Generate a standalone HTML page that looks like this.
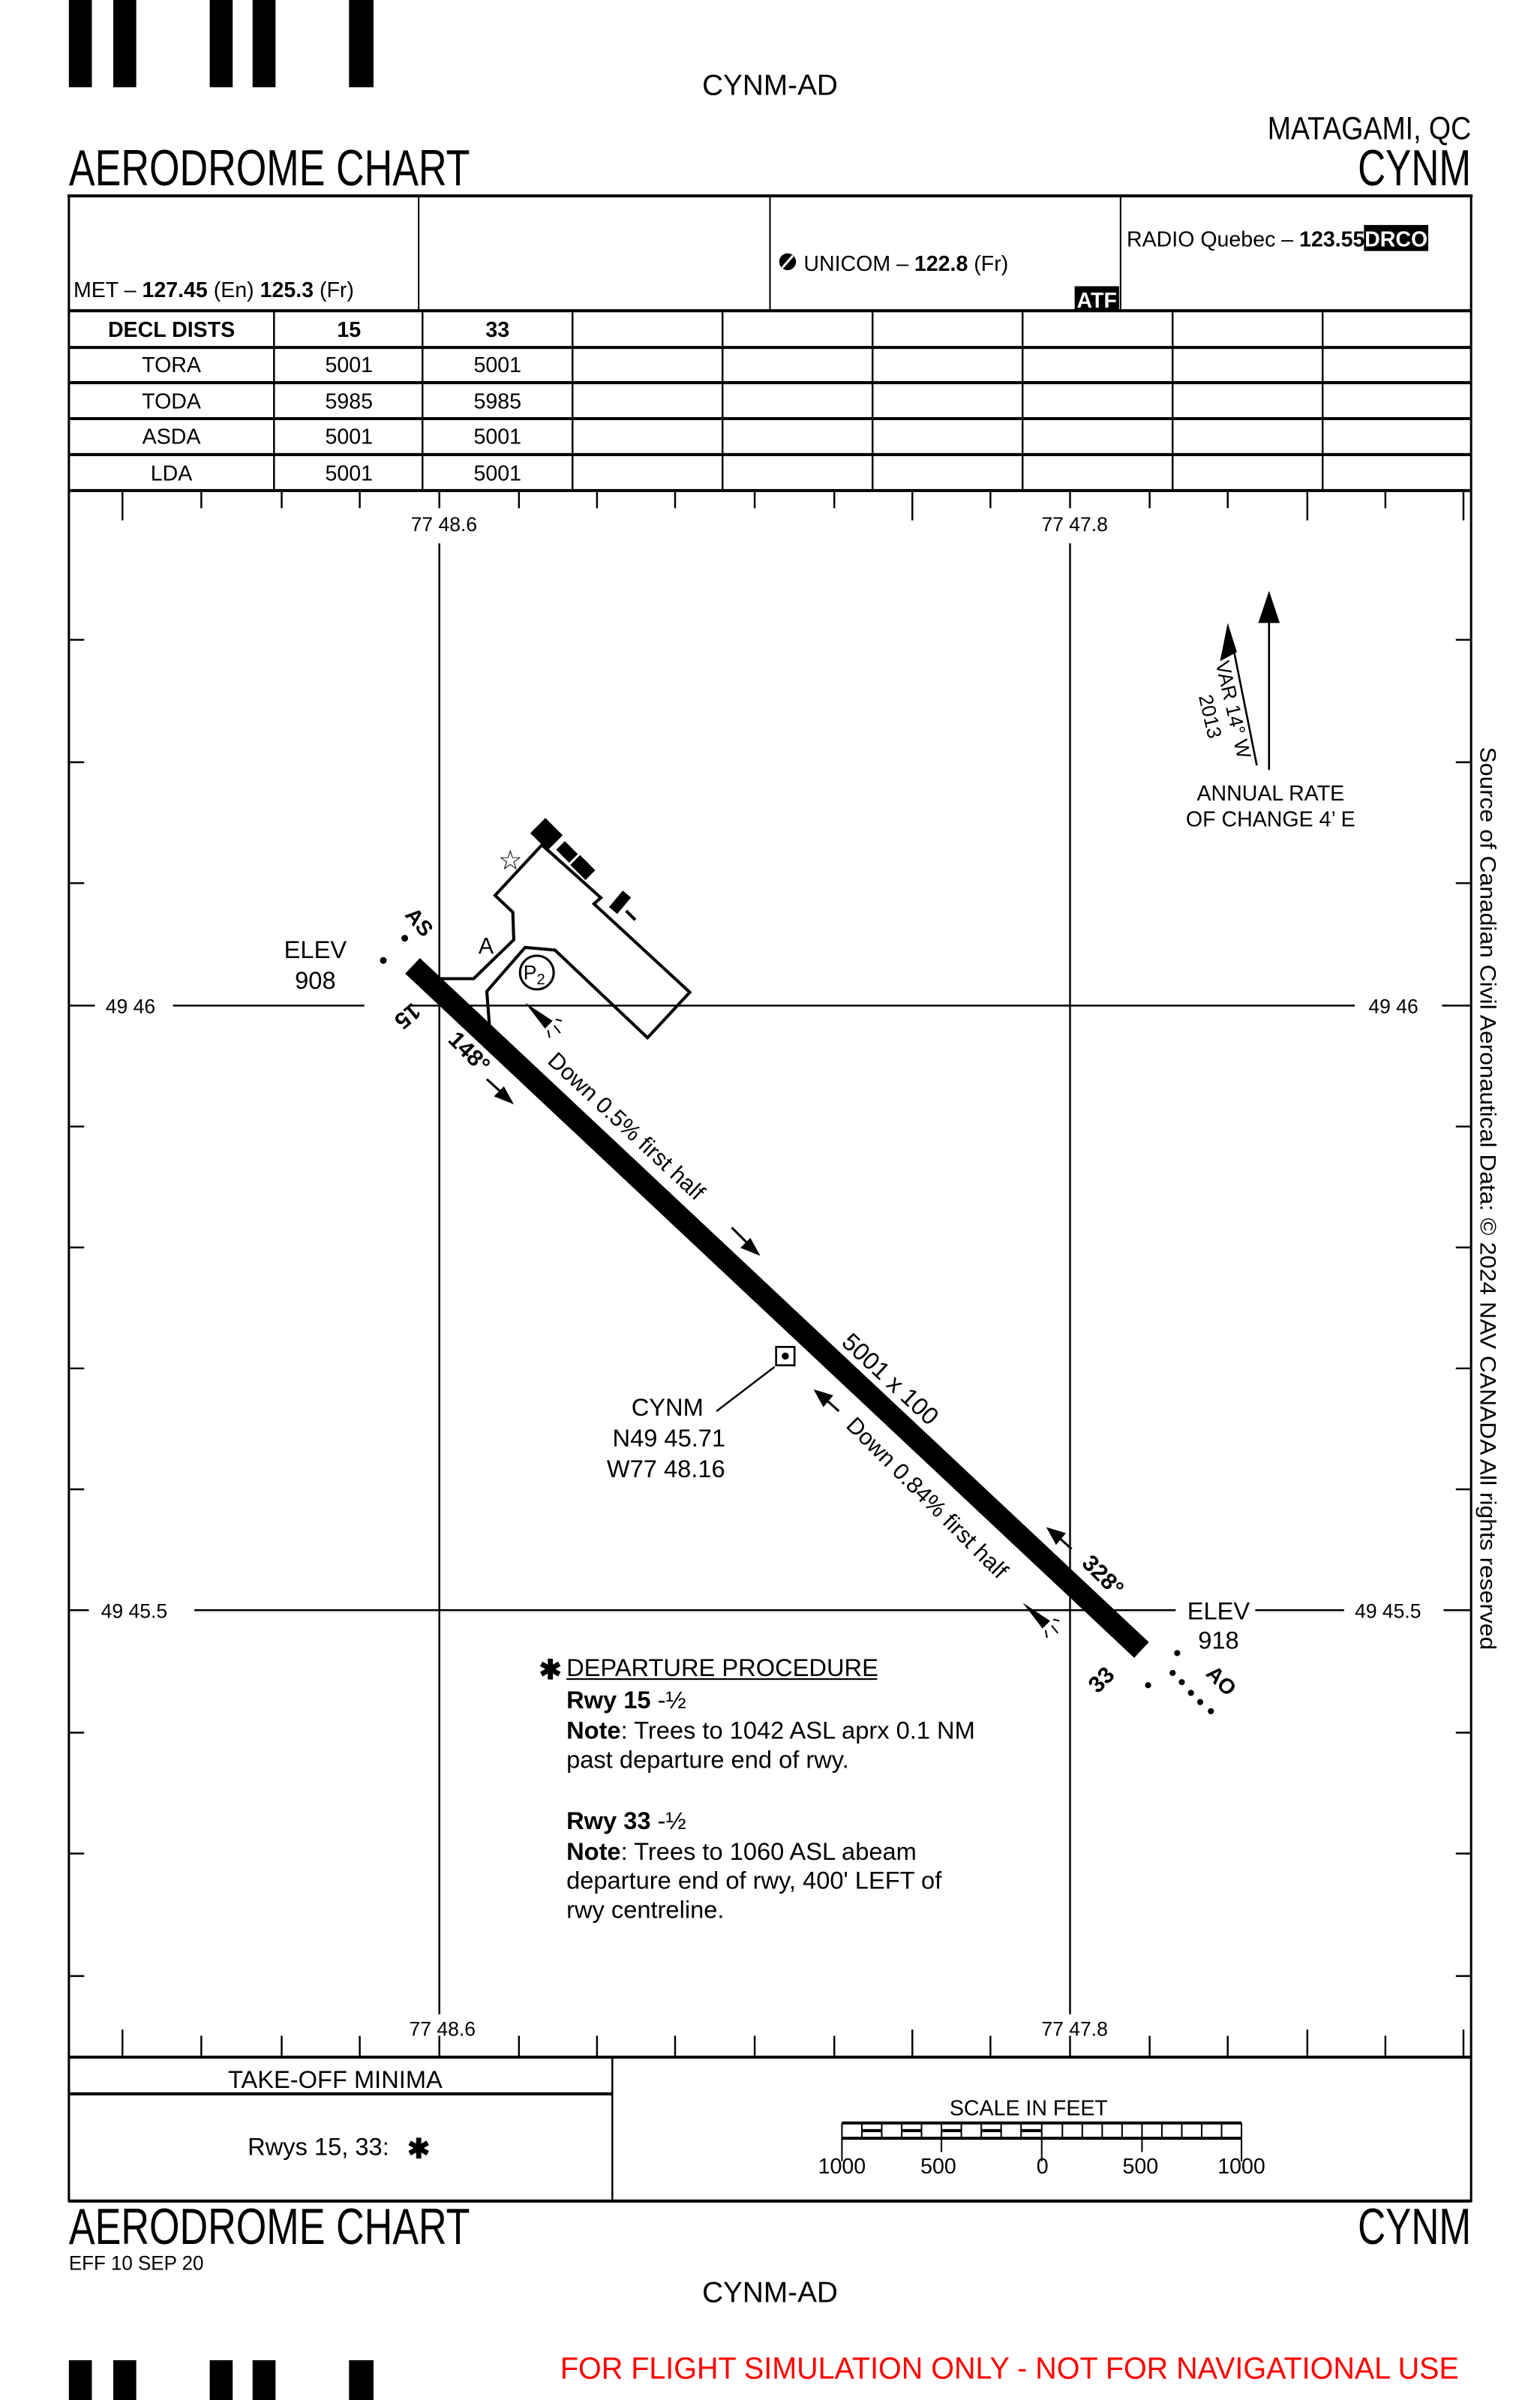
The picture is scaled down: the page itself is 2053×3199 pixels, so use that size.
<!DOCTYPE html>
<html><head><meta charset="utf-8"><style>
html,body{margin:0;padding:0;background:#fff}
svg{display:block}
text{font-family:"Liberation Sans",Arial,sans-serif;fill:#000}
.b{font-weight:bold}
</style></head><body>
<svg width="2053" height="3199" viewBox="0 0 1006 1568" preserveAspectRatio="none" xmlns="http://www.w3.org/2000/svg">
<rect width="1006" height="1568" fill="#fff"/>
<g fill="#000">
<rect x="45" y="0" width="15" height="57"/><rect x="74" y="0" width="15" height="57"/>
<rect x="137" y="0" width="15" height="57"/><rect x="165" y="0" width="15" height="57"/>
<rect x="228" y="0" width="16" height="57"/>
<rect x="45" y="1542" width="15" height="26"/><rect x="74" y="1542" width="15" height="26"/>
<rect x="137" y="1542" width="15" height="26"/><rect x="165" y="1542" width="15" height="26"/>
<rect x="228" y="1542" width="16" height="26"/>
</g>
<text x="503" y="62" font-size="19" text-anchor="middle">CYNM-AD</text>
<text x="961" y="91" font-size="21" text-anchor="end" textLength="133" lengthAdjust="spacingAndGlyphs">MATAGAMI, QC</text>
<text x="45" y="121" font-size="33" textLength="262" lengthAdjust="spacingAndGlyphs">AERODROME CHART</text>
<text x="961" y="121" font-size="33" text-anchor="end" textLength="74" lengthAdjust="spacingAndGlyphs">CYNM</text>

<g stroke="#000" fill="none">
<rect x="45" y="128" width="916" height="1310" stroke-width="1.5"/>
<line x1="44" y1="128" x2="962" y2="128" stroke-width="2"/>
<line x1="273.5" y1="128" x2="273.5" y2="203" stroke-width="1"/>
<line x1="503" y1="128" x2="503" y2="203" stroke-width="1"/>
<line x1="732" y1="128" x2="732" y2="203" stroke-width="1"/>
<g stroke-width="2">
<line x1="45" y1="203" x2="961" y2="203"/><line x1="45" y1="227" x2="961" y2="227"/>
<line x1="45" y1="250" x2="961" y2="250"/><line x1="45" y1="273.5" x2="961" y2="273.5"/>
<line x1="45" y1="297" x2="961" y2="297"/><line x1="45" y1="320.5" x2="961" y2="320.5"/>
<line x1="45" y1="1344" x2="961" y2="1344"/><line x1="45" y1="1438" x2="961" y2="1438"/>
<line x1="45" y1="1368" x2="400" y2="1368"/>
</g>
<g stroke-width="1.2">
<line x1="179" y1="203" x2="179" y2="320"/><line x1="276" y1="203" x2="276" y2="320"/>
<line x1="374" y1="203" x2="374" y2="320"/><line x1="472" y1="203" x2="472" y2="320"/>
<line x1="570" y1="203" x2="570" y2="320"/><line x1="668" y1="203" x2="668" y2="320"/>
<line x1="766" y1="203" x2="766" y2="320"/><line x1="864" y1="203" x2="864" y2="320"/>
<line x1="400" y1="1344" x2="400" y2="1438"/>
</g>
</g>
<text x="48" y="194" font-size="14">MET – <tspan class="b">127.45</tspan> (En)  <tspan class="b">125.3</tspan> (Fr)</text>
<circle cx="514.5" cy="171" r="5.5" fill="#000"/><path d="M511 175 L518 167" stroke="#fff" stroke-width="1.5"/>
<text x="525" y="177" font-size="14">UNICOM – <tspan class="b">122.8</tspan> (Fr)</text>
<rect x="702" y="187" width="29" height="16" fill="#000"/>
<text x="716.5" y="201" font-size="14" class="b" text-anchor="middle" style="fill:#fff">ATF</text>
<text x="736" y="161" font-size="14">RADIO Quebec – <tspan class="b">123.55</tspan></text>
<rect x="891" y="147" width="42" height="17" fill="#000"/>
<text x="912" y="161" font-size="14" class="b" text-anchor="middle" style="fill:#fff">DRCO</text>
<g font-size="14" text-anchor="middle">
<text x="112" y="220" class="b">DECL DISTS</text><text x="228" y="220" class="b">15</text><text x="325" y="220" class="b">33</text>
<text x="112" y="243">TORA</text><text x="228" y="243">5001</text><text x="325" y="243">5001</text>
<text x="112" y="267">TODA</text><text x="228" y="267">5985</text><text x="325" y="267">5985</text>
<text x="112" y="290">ASDA</text><text x="228" y="290">5001</text><text x="325" y="290">5001</text>
<text x="112" y="314">LDA</text><text x="228" y="314">5001</text><text x="325" y="314">5001</text>
</g>

<g stroke="#000" stroke-width="1.2">
<path d="M80 320V340 M131.5 320V332 M184 320V332 M235 320V332 M287 320V332 M339 320V332 M390 320V332 M441 320V332 M493 320V332 M545 320V332 M596 320V340 M647 320V332 M699 320V332 M751 320V332 M802 320V332 M854 320V340 M905 320V332 M956 320V340"/>
<path d="M80 1344V1326 M131.5 1344V1330 M184 1344V1330 M235 1344V1330 M287 1344V1330 M339 1344V1330 M390 1344V1330 M441 1344V1330 M493 1344V1330 M545 1344V1330 M596 1344V1326 M647 1344V1330 M699 1344V1330 M751 1344V1330 M802 1344V1330 M854 1344V1326 M905 1344V1330 M956 1344V1326"/>
<path d="M45 418H55 M45 498H55 M45 577H55 M45 736H55 M45 815H55 M45 894H55 M45 973H55 M45 1132H55 M45 1211H55 M45 1291H55"/>
<path d="M961 418H951 M961 498H951 M961 577H951 M961 736H951 M961 815H951 M961 894H951 M961 973H951 M961 1132H951 M961 1211H951 M961 1291H951"/>
<path d="M287 355V1316 M699 355V1316"/>
<path d="M45 657H62 M113 657H238 M267 657H885 M942 657H961"/>
<path d="M45 1052H58 M127 1052H768 M820 1052H878 M943 1052H961"/>
</g>
<g font-size="13" text-anchor="middle">
<text x="290" y="347">77 48.6</text><text x="702" y="347">77 47.8</text>
<text x="289" y="1330">77 48.6</text><text x="702" y="1330">77 47.8</text>
</g>
<text x="69" y="662" font-size="13">49 46</text><text x="894" y="662" font-size="13">49 46</text>
<text x="66" y="1057" font-size="13">49 45.5</text><text x="885" y="1057" font-size="13">49 45.5</text>

<line x1="269.5" y1="631" x2="745.7" y2="1078" stroke="#000" stroke-width="14"/>
<polyline points="287.3,639.4 309.4,639.4 335.6,614 335,596 323.4,585 354,552 392.5,586.5 388,590.5 450.6,648.3 423,678 362.5,620.7 343,619 318,647.7 319.7,669.7" fill="none" stroke="#000" stroke-width="2"/>
<g fill="#000">
<rect x="-8" y="-7" width="16" height="14" transform="translate(357,545) rotate(45)"/>
<rect x="-6" y="-4" width="12" height="8" transform="translate(370.4,556.6) rotate(45)"/>
<rect x="-7" y="-4.5" width="14" height="9" transform="translate(380.7,566.8) rotate(45)"/>
<rect x="-7" y="-3.5" width="14" height="7" transform="translate(405,589.5) rotate(-50)"/>
</g>
<line x1="409" y1="595" x2="415" y2="601" stroke="#000" stroke-width="2"/>
<text x="333.4" y="568" font-size="18" text-anchor="middle">☆</text>
<circle cx="350.7" cy="635.4" r="11" fill="none" stroke="#000" stroke-width="1.5"/>
<text x="349" y="640" font-size="13" text-anchor="middle">P<tspan font-size="10" dy="3">2</tspan></text>
<text x="317.5" y="623" font-size="15" text-anchor="middle">A</text>
<circle cx="264.4" cy="613" r="2.2"/><circle cx="250.4" cy="627.5" r="2.2"/>
<text class="b" font-size="14" transform="translate(264,598) rotate(50)">AS</text>
<text class="b" font-size="15" transform="translate(263,660) rotate(140)" text-anchor="middle">15</text>
<text x="206" y="626" font-size="16" text-anchor="middle">ELEV</text>
<text x="206" y="646" font-size="16" text-anchor="middle">908</text>
<text class="b" font-size="15" transform="translate(292,680) rotate(45)">148°</text>
<g stroke="#000" stroke-width="1.5" fill="#000">
<line x1="318" y1="705" x2="330" y2="716"/><path d="M334 720 L324 716 L329 711Z"/>
<line x1="478" y1="802" x2="490" y2="814"/><path d="M495 819 L485 815 L490 810Z"/>
<line x1="548" y1="922" x2="538" y2="913"/><path d="M533 909 L543 912 L538 918Z"/>
<line x1="700" y1="1012" x2="690" y2="1003"/><path d="M685 999 L695 1002 L690 1008Z"/>
</g>
<text font-size="15" transform="translate(357,694) rotate(43)">Down 0.5% first half</text>
<text font-size="16" transform="translate(549,878) rotate(43)">5001 x 100</text>
<text font-size="15" transform="translate(552,932) rotate(45)">Down 0.84% first half</text>
<text class="b" font-size="15" transform="translate(706,1022) rotate(45)">328°</text>
<text class="b" font-size="15" transform="translate(723,1101) rotate(-45)" text-anchor="middle">33</text>
<text class="b" font-size="14" transform="translate(787,1094) rotate(45)">AO</text>
<g fill="#000">
<circle cx="750" cy="1101" r="2"/><circle cx="769" cy="1080" r="2"/><circle cx="766" cy="1093" r="2"/>
<circle cx="772" cy="1099" r="2"/><circle cx="778" cy="1106" r="2"/><circle cx="784" cy="1112" r="2"/><circle cx="791" cy="1118" r="2"/>
<path d="M343 655 L361 667 L356 672Z"/>
<path d="M668 1047 L686 1059 L681 1064Z"/>
</g>
<g stroke="#000" stroke-width="1">
<path d="M363 666 L367 667 M362 670 L366 675 M358 673 L359 678"/>
<path d="M688 1058 L692 1059 M687 1062 L691 1067 M683 1065 L684 1070"/>
</g>
<text x="796" y="1058" font-size="16" text-anchor="middle">ELEV</text>
<text x="796" y="1077" font-size="16" text-anchor="middle">918</text>
<rect x="507" y="880" width="12" height="12" fill="#fff" stroke="#000" stroke-width="1.3"/>
<circle cx="513" cy="886" r="2.3"/>
<line x1="506" y1="893" x2="468" y2="922" stroke="#000" stroke-width="1.2"/>
<g font-size="16" text-anchor="middle">
<text x="436" y="925">CYNM</text><text x="437" y="945">N49 45.71</text><text x="435" y="965">W77 48.16</text>
</g>
<line x1="829" y1="503" x2="829" y2="400" stroke="#000" stroke-width="1.3"/>
<path d="M829 386 L836 407 L822 407Z" fill="#000"/>
<line x1="821" y1="500" x2="805" y2="420" stroke="#000" stroke-width="1.3"/>
<path d="M802 407 L808 426 L797 432Z" fill="#000"/>
<text font-size="13" transform="translate(794,433) rotate(77)">VAR 14° W</text>
<text font-size="13" transform="translate(783,455) rotate(77)">2013</text>
<text x="830" y="523" font-size="14" text-anchor="middle">ANNUAL RATE</text>
<text x="830" y="540" font-size="14" text-anchor="middle">OF CHANGE 4’ E</text>
<text font-size="14.5" transform="translate(967,488) rotate(90)" textLength="590" lengthAdjust="spacingAndGlyphs">Source of Canadian Civil Aeronautical Data: © 2024 NAV CANADA All rights reserved</text>
<text x="352" y="1097" font-size="18" class="b">✱</text>
<text x="370" y="1095" font-size="16">DEPARTURE PROCEDURE</text>
<line x1="370" y1="1097" x2="573" y2="1097" stroke="#000" stroke-width="1"/>
<g font-size="16">
<text x="370" y="1116"><tspan class="b">Rwy 15</tspan> -½</text>
<text x="370" y="1136"><tspan class="b">Note</tspan>: Trees to 1042 ASL aprx 0.1 NM</text>
<text x="370" y="1155">past departure end of rwy.</text>
<text x="370" y="1195"><tspan class="b">Rwy 33</tspan> -½</text>
<text x="370" y="1215"><tspan class="b">Note</tspan>: Trees to 1060 ASL abeam</text>
<text x="370" y="1234">departure end of rwy, 400' LEFT of</text>
<text x="370" y="1253">rwy centreline.</text>
</g>
<text x="219" y="1364" font-size="16" text-anchor="middle">TAKE-OFF MINIMA</text>
<text x="208" y="1408" font-size="16" text-anchor="middle">Rwys 15, 33:</text>
<text x="266" y="1410" font-size="18" class="b">✱</text>
<text x="672" y="1382" font-size="14" text-anchor="middle">SCALE IN FEET</text>
<g stroke="#000">
<line x1="550" y1="1387" x2="811" y2="1387" stroke-width="2"/>
<line x1="550" y1="1397" x2="811" y2="1397" stroke-width="2"/>
<path stroke-width="1" d="M550 1387V1412 M563 1387V1397 M576 1387V1397 M589 1387V1397 M602 1387V1397 M615 1387V1406 M628 1387V1397 M641 1387V1397 M654 1387V1397 M667 1387V1397 M680.5 1387V1412 M694 1387V1397 M707 1387V1397 M720 1387V1397 M733 1387V1397 M746 1387V1406 M759 1387V1397 M772 1387V1397 M785 1387V1397 M798 1387V1397 M811 1387V1412"/>
<path stroke-width="2" d="M563 1392H576 M589 1392H602 M615 1392H628 M641 1392H654 M667 1392H680"/>
</g>
<g font-size="14" text-anchor="middle">
<text x="550" y="1420">1000</text><text x="613" y="1420">500</text><text x="681" y="1420">0</text><text x="745" y="1420">500</text><text x="811" y="1420">1000</text>
</g>
<text x="45" y="1466" font-size="33" textLength="262" lengthAdjust="spacingAndGlyphs">AERODROME CHART</text>
<text x="961" y="1466" font-size="33" text-anchor="end" textLength="74" lengthAdjust="spacingAndGlyphs">CYNM</text>
<text x="45" y="1483" font-size="13" textLength="88" lengthAdjust="spacingAndGlyphs">EFF 10 SEP 20</text>
<text x="503" y="1504" font-size="19" text-anchor="middle">CYNM-AD</text>
<text x="953" y="1554" font-size="20" text-anchor="end" style="fill:#ff0000" textLength="587" lengthAdjust="spacingAndGlyphs">FOR FLIGHT SIMULATION ONLY - NOT FOR NAVIGATIONAL USE</text>
</svg>
</body></html>
